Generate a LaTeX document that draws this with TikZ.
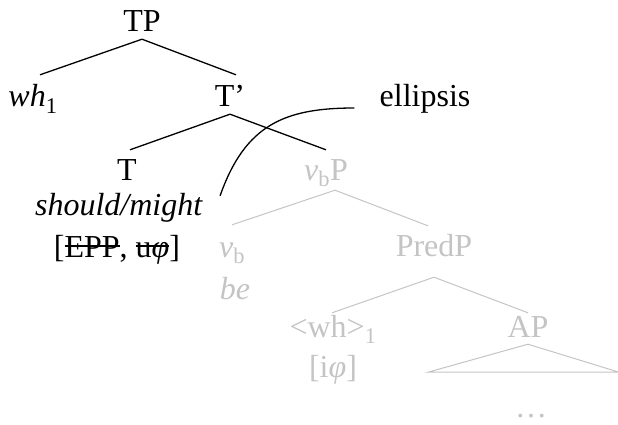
\documentclass[tikz,border=0pt]{standalone}
\usepackage{fontspec}
\setmainfont{Liberation Serif}
\usepackage{tikz}
\usetikzlibrary{positioning,calc}
\definecolor{elidedgray}{RGB}{196,196,196}
% struck-out feature
\newsavebox\strikebox
\newcommand\strikefeat[1]{\sbox\strikebox{#1}\rlap{\usebox\strikebox}\rule[0.31em]{\wd\strikebox}{0.05em}}

\begin{document}
\begin{tikzpicture}[
					x=1pt, y=-1pt,
					every node/.style={
						inner sep=0pt, anchor=base,
						text height=32pt, text depth=7pt,
						font=\fontsize{32}{38}\selectfont
					},
					% Branches of the tree
					branch_line/.style={draw=black, line width=1.3pt},
					% Elided part in light gray
					elided_line/.style={draw=elidedgray, line width=1pt},
					elided_label/.style={text=elidedgray}
					]
					\useasboundingbox (0,0) rectangle (618,425);
					
					% Pronounced part
					\node (tp) at (142,32) {TP};
					\node (wh) at (33,107) {\textit{wh}\textsubscript{1}};
					\node (tbar) at (230,107) {T’};
					\node (ell) at (425,107) {ellipsis};
					\node (t) at (127,180) {T};
					\node (modal) at (119,215) {\textit{should/might}};
					\node (feat) at (117,257) {[\strikefeat{EPP}, \strikefeat{u\textit{φ}}]};
					
					% Elided vP
					\node[elided_label] (vbp) at (326,180) {\textit{v}\textsubscript{b}P};
					\node[elided_label] (vb) at (232,257) {\textit{v}\textsubscript{b}};
					\node[elided_label] (be) at (235,299) {\textit{be}};
					\node[elided_label] (predp) at (434,256) {PredP};
					\node[elided_label] (whcopy) at (333,337) {<wh>\textsubscript{1}};
					\node[elided_label] (iphi) at (333,377) {[i\textit{φ}]};
					\node[elided_label] (ap) at (528,337) {AP};
					\node[elided_label, text height=4pt, text depth=0pt] (dots) at (531,417) {…};
					
					\draw[branch_line] (tp.south) -- ([xshift=7pt]wh.north);
					\draw[branch_line] (tp.south) -- ([xshift=6pt]tbar.north);
					\draw[branch_line] (tbar.south) -- ([xshift=3pt,yshift=-2pt]t.north);
					\draw[branch_line] (tbar.south) -- ([yshift=-2pt]vbp.north);
					
					\draw[elided_line] ([xshift=9pt,yshift=-3pt]vbp.south) -- (vb.north);
					\draw[elided_line] ([xshift=9pt,yshift=-3pt]vbp.south) -- ([xshift=-6pt,yshift=-2pt]predp.north);
					\draw[elided_line] ([yshift=-14pt]predp.south) -- ([xshift=-1pt,yshift=-8pt]whcopy.north);
					\draw[elided_line] ([yshift=-14pt]predp.south) -- ([yshift=-8pt]ap.north);
					\draw[elided_line] (ap.south) -- ++(-100,28) -- ++(191,0) -- cycle;
					
					% Ellipsis curve
					\draw[branch_line] ([xshift=-25pt,yshift=-1pt]ell.base west)
						.. controls +(-70,0) and +(25,-71) .. ([xshift=17pt,yshift=-13pt]modal.north east);
					
				\end{tikzpicture}
\end{document}
